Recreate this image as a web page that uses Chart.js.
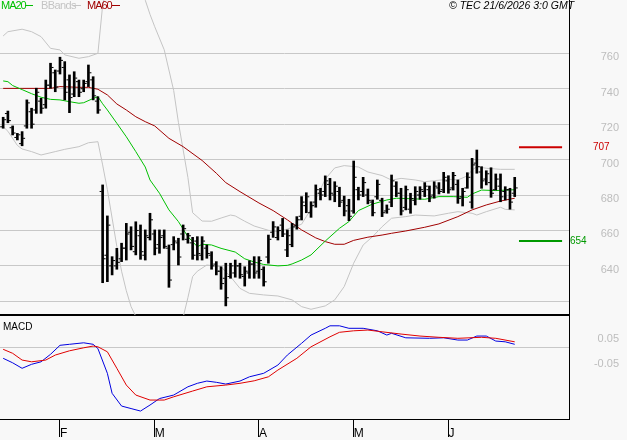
<!DOCTYPE html>
<html>
<head>
<meta charset="utf-8">
<script src="https://cdn.jsdelivr.net/npm/chart.js@4.4.1/dist/chart.umd.min.js"></script>
<style>
  body { margin: 0; background: #f8f8f8; }
  #wrap { position: relative; width: 627px; height: 440px; overflow: hidden; font-family: 'Liberation Sans', Arial, sans-serif; }
  canvas { position: absolute; left: 0; }
  #price { top: 0; }
  #osc { top: 316px; }
  .txt { position: absolute; font-size: 10px; line-height: 10px; white-space: nowrap; }
  .ln { position: absolute; width: 8px; height: 1px; }
</style>
</head>
<body>
<div id="wrap">
  <canvas id="price" width="627" height="317"></canvas>
  <canvas id="osc" width="627" height="124"></canvas>

  <span class="txt" style="left:1px;top:0;font-size:11px;line-height:11px;color:#00c000;letter-spacing:-1px">MA20</span>
  <span class="ln" style="left:25px;top:5px;background:#00c000"></span>
  <span class="txt" style="left:41px;top:0;font-size:11px;line-height:11px;color:#c4c4c4;letter-spacing:-0.6px">BBands</span>
  <span class="ln" style="left:73px;top:5px;background:#c4c4c4"></span>
  <span class="txt" style="left:87px;top:0;font-size:11px;line-height:11px;color:#a00000;letter-spacing:-1px">MA60</span>
  <span class="ln" style="left:112px;top:5px;background:#a00000"></span>

  <span class="txt" style="left:449px;top:0;font-style:italic;font-size:10.5px">© TEC 21/6/2026 3:0 GMT</span>
  <span class="txt" style="left:3px;top:322px;color:#000">MACD</span>
</div>

<script>
// barras OHLC, indice 0 = primer dia visible
const highs = [723.9, 727.4, 719.0, 714.8, 715.8, 733.7, 729.0, 740.3, 734.6, 744.9,
    754.4, 750.6, 757.8, 755.3, 747.8, 749.6, 744.9, 744.9, 753.4, 746.8,
    735.5, 685.7, 668.2, 645.2, 649.9, 652.8, 664.0, 662.1, 664.9, 663.1,
    660.3, 669.7, 660.3, 660.3, 660.3, 651.8, 656.5, 655.6, 663.1, 658.4,
    656.1, 656.5, 656.5, 651.8, 648.0, 642.4, 639.5, 641.5, 641.5, 643.3,
    641.5, 639.5, 642.9, 645.2, 645.2, 639.5, 657.4, 665.0, 662.1, 666.8,
    660.3, 664.0, 667.8, 679.1, 681.3, 676.2, 685.7, 683.8, 690.8, 689.4,
    687.5, 684.4, 679.4, 677.6, 699.2, 684.4, 690.0, 683.4, 677.2, 688.5,
    678.2, 674.4, 691.3, 687.5, 683.8, 685.1, 681.0, 684.7, 684.7, 687.0,
    685.1, 687.5, 687.0, 692.8, 690.9, 692.8, 688.5, 683.8, 692.6, 700.7,
    705.4, 696.0, 693.7, 695.4, 691.9, 691.9, 684.7, 683.8, 690.0];
const lows = [717.7, 720.8, 713.9, 711.1, 707.8, 717.7, 717.7, 726.1, 726.1, 729.0,
    740.3, 738.3, 748.3, 733.7, 726.5, 735.5, 735.5, 738.3, 741.2, 733.7,
    726.1, 630.5, 631.1, 634.9, 638.1, 642.4, 643.3, 649.0, 646.2, 643.7,
    643.3, 654.6, 646.2, 647.1, 649.9, 627.9, 649.0, 640.5, 654.6, 652.8,
    643.7, 643.3, 643.3, 644.3, 638.1, 634.9, 626.8, 617.4, 633.0, 633.6,
    633.0, 628.6, 633.0, 633.0, 633.0, 628.6, 641.5, 656.1, 654.6, 656.5,
    645.2, 650.8, 660.7, 665.9, 670.0, 667.4, 673.1, 677.2, 679.1, 677.2,
    676.2, 673.4, 668.2, 665.5, 669.7, 677.2, 679.1, 675.0, 668.2, 677.6,
    667.8, 669.7, 673.4, 679.1, 668.7, 671.6, 669.7, 674.4, 677.6, 679.1,
    676.2, 678.2, 680.6, 681.3, 681.0, 682.8, 675.3, 673.8, 683.8, 672.5,
    692.3, 683.8, 685.7, 678.7, 682.8, 676.2, 677.2, 672.0, 679.1];
const opens = [718.5, 726, 718, 712.5, 709, 719, 727, 728, 733, 731,
    742, 749, 750, 752, 745, 737, 744, 740, 744, 745,
    733, 682, 646, 640, 640, 644, 650, 659, 648, 657,
    646, 656, 658, 652, 657, 650, 652, 653, 658, 655,
    653, 654, 646, 650, 646, 641, 637, 633, 634, 636,
    640, 634, 636, 641, 637, 638, 645, 659, 656, 663,
    649, 652, 663, 668, 674, 670, 676, 681, 682, 686,
    680, 682, 677, 674, 671, 683, 682, 680, 676, 679,
    677, 671, 676, 685, 681, 673, 672, 677, 680, 682,
    683, 680, 684, 683, 688, 684, 686, 679, 684, 676,
    698, 693, 689, 687, 683, 685, 682, 683, 681];
const closes = [722.5, 722, 715, 714, 712, 732, 720, 738, 729, 742,
    752, 741, 756, 738, 735, 746, 738, 743, 749, 736,
    728, 644, 663, 643, 642, 650, 658, 651, 660, 648,
    657, 666, 650, 656, 651, 632, 654, 645, 661, 657,
    646, 647, 654, 647, 640, 637, 630, 622, 640, 640,
    635, 637, 641, 636, 643, 631, 655, 662, 660, 658,
    657, 662, 666, 676, 679, 674, 683, 680, 688, 681,
    685, 676, 671, 668, 690, 680, 687, 677, 670, 686,
    670, 672, 688, 681, 671, 683, 678, 682, 683, 685,
    679, 685, 682, 690, 683, 691, 678, 682, 690, 697,
    696, 688, 692, 681, 689, 679, 683, 676, 684];

// medias y bandas (indice de barra, valor)
const ma20Idx = [0, 1, 2, 4, 6, 8, 10, 12, 14, 16, 17, 19, 20, 21, 22, 24, 26, 28, 30, 31, 33, 35, 37, 39, 41, 42, 44, 46, 49, 51, 53, 55, 58, 60, 61, 63, 65, 68, 71, 73, 75, 78, 81, 83, 87, 89, 92, 95, 98, 99, 101, 104, 108];
const ma20 = [744.4, 744.0, 741.8, 739.5, 737.2, 735.2, 734.0, 733.7, 732.7, 731.8, 732.1, 734.5, 735.5, 731.5, 728.0, 720.5, 712.9, 704.5, 695.8, 688.5, 681.0, 671.6, 665.0, 656.5, 650.8, 652.2, 651.8, 649.9, 647.8, 644.0, 642.2, 640.8, 640.0, 640.3, 641.1, 643.3, 646.2, 654.0, 661.2, 665.0, 671.2, 674.9, 677.2, 678.2, 677.8, 677.6, 679.1, 679.1, 678.7, 680.6, 682.8, 682.5, 683.0];
const ma60Idx = [0, 4, 10, 12, 16, 18, 20, 22, 24, 26, 28, 30, 32, 35, 38, 42, 45, 47, 50, 54, 57, 60, 63, 66, 68, 70, 72, 74, 77, 80, 82, 85, 89, 92, 96, 99, 102, 105, 108];
const ma60 = [740.2, 740.2, 740.2, 741.2, 740.8, 740.8, 739.7, 736.5, 731.4, 728.0, 724.2, 721.4, 719.0, 712.0, 707.3, 699.5, 692.3, 687.0, 681.9, 675.5, 671.2, 666.0, 660.3, 655.8, 653.7, 652.2, 652.2, 654.4, 656.2, 657.4, 658.4, 659.7, 661.8, 663.7, 667.8, 671.6, 674.4, 676.6, 678.2];
const bbUpIdx = [0, 1, 4, 6, 8, 10, 12, 13, 16, 18, 20, 21, 22, 25, 28, 30, 31, 32, 34, 36, 37, 39, 40, 42, 44, 46, 48, 49, 51, 53, 56, 58, 60, 63, 64, 65, 68, 70, 72, 75, 77, 80, 82, 84, 87, 89, 91, 94, 96, 98, 99, 100, 102, 105, 108];
const bbUp = [769.8, 772.2, 773.6, 772.2, 769.4, 762.8, 761.9, 759.1, 757.2, 758.1, 760.0, 787, 798, 804, 800, 790, 782, 775, 762, 739, 721, 690, 670, 665.3, 665.2, 667.0, 668.7, 668.2, 665.2, 662.5, 660.1, 659.3, 660.8, 663.5, 667.8, 672.0, 689.0, 695.3, 696.6, 695.8, 693.0, 691.0, 688.4, 689.4, 688.5, 687.5, 688.1, 688.9, 688.5, 690.8, 694.1, 696.0, 695.1, 694.5, 694.5];
const bbLoIdx = [0, 1, 3, 4, 6, 8, 11, 13, 16, 18, 20, 21, 22, 23, 24, 25, 26, 27, 29, 32, 35, 37, 38, 39, 40, 41, 43, 46, 48, 50, 52, 55, 58, 61, 63, 65, 68, 70, 72, 74, 76, 78, 80, 82, 85, 87, 91, 94, 96, 99, 100, 102, 105, 106, 108];
const bbLo = [718.6, 716, 708, 706, 704.5, 702.6, 704.5, 705.8, 707.3, 709.5, 710.1, 697, 683, 667, 651, 637, 626, 617, 606, 600, 603, 609, 611, 622, 634, 637, 640.5, 639.5, 633.9, 627.3, 624.5, 623.6, 623.0, 620.8, 617.0, 615.5, 617.4, 620.8, 628.3, 641.5, 651.8, 656.5, 662.1, 666.9, 667.8, 668.7, 668.2, 669.7, 670.6, 669.7, 668.7, 670.6, 673.1, 671.9, 671.6];

// niveles marcados a la derecha
const levels = [707, 654];

// MACD y senal
const macdIdx = [0, 2, 4, 6, 8, 10, 12, 14, 17, 19, 20, 22, 23, 25, 27, 29, 31, 33, 36, 39, 41, 43, 45, 47, 50, 52, 55, 58, 60, 63, 65, 68, 69, 71, 73, 76, 79, 81, 82, 85, 90, 93, 96, 98, 100, 102, 104, 106, 108];
const macd = [-0.044, -0.062, -0.084, -0.068, -0.058, -0.028, 0.008, 0.012, 0.018, 0.012, -0.005, -0.104, -0.184, -0.235, -0.245, -0.255, -0.231, -0.205, -0.191, -0.158, -0.144, -0.135, -0.140, -0.147, -0.135, -0.118, -0.104, -0.071, -0.031, 0.016, 0.049, 0.076, 0.086, 0.086, 0.076, 0.076, 0.066, 0.049, 0.056, 0.038, 0.036, 0.038, 0.029, 0.029, 0.045, 0.045, 0.025, 0.022, 0.012];
const sigIdx = [0, 2, 4, 6, 9, 11, 14, 17, 19, 20, 22, 24, 26, 28, 31, 34, 36, 40, 43, 47, 50, 53, 56, 58, 62, 65, 69, 71, 74, 77, 80, 84, 88, 92, 96, 101, 104, 108];
const signal = [-0.008, -0.024, -0.051, -0.058, -0.051, -0.031, -0.014, -0.002, 0.005, 0.002, -0.018, -0.084, -0.151, -0.191, -0.211, -0.211, -0.198, -0.175, -0.158, -0.151, -0.144, -0.134, -0.118, -0.091, -0.044, 0.002, 0.042, 0.060, 0.066, 0.069, 0.062, 0.053, 0.045, 0.040, 0.036, 0.040, 0.036, 0.022];

// ejes
const monthTicks = [12, 32, 54, 74, 94];
const monthLabels = ['F', 'M', 'A', 'M', 'J'];
const priceTicks = [620, 640, 660, 680, 700, 720, 740, 760];
const macdTicks = [-0.05, 0, 0.05];

const xMin = -0.667, xMax = 119.46;
const priceMin = 612.27, priceMax = 790.09;
const macdMin = -0.2868, macdMax = 0.1252;
const levelFrom = 108.9, levelTo = 118;
const tickShift = 0.42;
const levelColors = ['#cc0000', '#009900'];
const levelTextGap = [24, 1];

const pts = (idx, vals) => idx.map((x, k) => ({ x, y: vals[k] }));
const axisFont = { family: "'Liberation Sans', Arial, sans-serif", size: 11 };

const lineSet = (data, color, order, width = 1) => ({
    type: 'line', data, borderColor: color, borderWidth: width,
    pointRadius: 0, fill: false, tension: 0, order
});

const levelLabels = {
    id: 'levelLabels',
    afterDraw(chart) {
        const { ctx, chartArea, scales } = chart;
        ctx.save();
        ctx.font = "10px 'Liberation Sans', Arial, sans-serif";
        ctx.textBaseline = 'middle';
        levels.forEach((lv, k) => {
            ctx.fillStyle = levelColors[k];
            ctx.fillText(String(lv), chartArea.right + levelTextGap[k], scales.y.getPixelForValue(lv));
        });
        ctx.restore();
    }
};

const baseOpts = {
    responsive: false,
    animation: false,
    devicePixelRatio: 1,
    events: [],
    layout: { padding: { left: 0, top: 0, bottom: 0, right: 8 }, autoPadding: false },
    plugins: { legend: { display: false }, tooltip: { enabled: false } }
};

// eje derecho: etiquetas alineadas al borde derecho del eje (x = 619)
const rightAxis = (min, max, ticks, gridColor, label) => ({
    position: 'right', min, max,
    afterBuildTicks: s => { s.ticks = ticks.map(v => ({ value: v })); },
    grid: { color: gridColor, drawTicks: false },
    border: { color: '#000', width: 1 },
    ticks: { color: '#bdbdbd', font: axisFont, padding: 4, crossAlign: 'far', labelOffset: 4, callback: label },
    afterFit: s => { s.width = 50; s.paddingTop = 0; s.paddingBottom = 0; }
});

new Chart(document.getElementById('price'), {
    type: 'line',
    data: {
        datasets: [
            {
                type: 'bar',
                data: highs.map((h, i) => ({ x: i, y: [lows[i], h] })),
                backgroundColor: '#000', barThickness: 2, borderWidth: 0, order: 0
            },
            {
                type: 'line', showLine: false, order: 0, borderWidth: 0,
                data: opens.map((o, i) => ({ x: i - tickShift, y: o })),
                pointStyle: 'line', pointRadius: 1, pointBorderWidth: 1, pointBorderColor: '#000'
            },
            {
                type: 'line', showLine: false, order: 0, borderWidth: 0,
                data: closes.map((c, i) => ({ x: i + tickShift, y: c })),
                pointStyle: 'line', pointRadius: 1, pointBorderWidth: 1, pointBorderColor: '#000'
            },
            lineSet(pts(ma20Idx, ma20), '#00c000', 1),
            lineSet(pts(ma60Idx, ma60), '#a00000', 1),
            lineSet(pts(bbUpIdx, bbUp), '#c4c4c4', 2),
            lineSet(pts(bbLoIdx, bbLo), '#c4c4c4', 2),
            ...levels.map((lv, k) => lineSet([{ x: levelFrom, y: lv }, { x: levelTo, y: lv }], levelColors[k], 1, 2))
        ]
    },
    options: {
        ...baseOpts,
        scales: {
            x: {
                type: 'linear', min: xMin, max: xMax, offset: false,
                grid: { display: false }, ticks: { display: false },
                border: { color: '#000', width: 2 },
                afterFit: s => { s.height = 2; s.paddingLeft = 0; s.paddingRight = 0; }
            },
            y: rightAxis(priceMin, priceMax, priceTicks, '#c8c8c8', v => (v > 620 ? String(v) : ''))
        }
    },
    plugins: [levelLabels]
});

new Chart(document.getElementById('osc'), {
    type: 'line',
    data: {
        datasets: [
            lineSet(pts(sigIdx, signal), '#e00000', 0),
            lineSet(pts(macdIdx, macd), '#0000e0', 1)
        ]
    },
    options: {
        ...baseOpts,
        scales: {
            x: {
                type: 'linear', min: xMin, max: xMax, offset: false,
                afterBuildTicks: s => { s.ticks = monthTicks.map(v => ({ value: v })); },
                grid: { drawOnChartArea: false, tickLength: 18, tickColor: '#000', tickWidth: 1 },
                border: { color: '#000', width: 1 },
                ticks: {
                    autoSkip: false, maxRotation: 0, minRotation: 0, align: 'start', padding: -11,
                    color: '#000', font: { ...axisFont, size: 12 },
                    callback: (v, i) => monthLabels[i]
                },
                afterFit: s => { s.height = 21; s.paddingLeft = 0; s.paddingRight = 0; }
            },
            y: rightAxis(macdMin, macdMax, macdTicks,
                c => (c.tick && c.tick.value === 0 ? '#c8c8c8' : 'rgba(0,0,0,0)'),
                v => (v === 0 ? '' : v.toFixed(2)))
        }
    }
});
</script>
</body>
</html>
